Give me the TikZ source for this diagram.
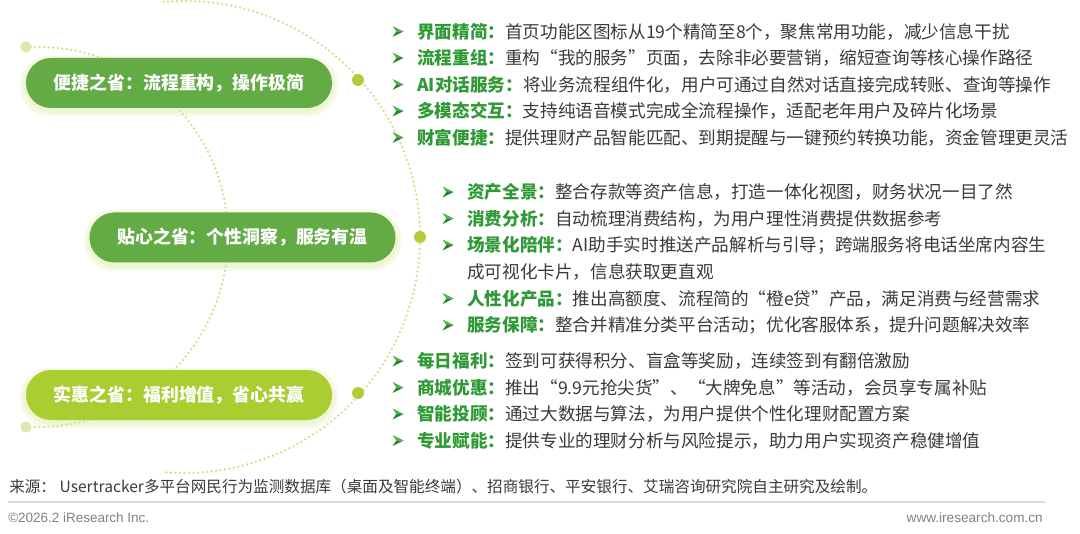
\documentclass[tikz,border=0pt]{standalone}
\usepackage{fontspec}
\setmainfont{Noto Sans CJK SC}
\newfontfamily\arialfont{Liberation Sans}
\definecolor{pillgreen}{HTML}{62AB45}
\definecolor{pillyellow}{HTML}{AACD32}
\definecolor{lblgreen}{HTML}{2F9A35}
\definecolor{bullight}{HTML}{4DB346}
\definecolor{buldark}{HTML}{23862B}
\definecolor{bodytext}{HTML}{3A3A3A}
\definecolor{arcc}{HTML}{CFE08C}
\definecolor{dotc}{HTML}{B4CC3C}
\definecolor{dotlight}{HTML}{DDE8AE}
\definecolor{glowc}{HTML}{EEF5DC}
\definecolor{rulec}{HTML}{D9D9D9}
\definecolor{footc}{HTML}{808080}
\definecolor{halo}{HTML}{DCEBA5}
\pgfdeclareradialshading{glowshade}{\pgfpoint{0bp}{0bp}}{color(0bp)=(white); color(26bp)=(white); color(50bp)=(glowc); color(100bp)=(glowc)}
\tikzset{
  dotline/.style={arcc, line width=1.9pt, dash pattern=on 0pt off 3.4pt, line cap=round},
  bigdot/.style={circle, fill=dotc, inner sep=0, minimum size=9pt},
  enddot/.style={circle, fill=dotlight, inner sep=0, minimum size=8.5pt},
  pill/.style={rounded corners=18.75pt, minimum width=229.5pt, minimum height=37.5pt, inner sep=0,
    text=white, font=\fontsize{13.4pt}{15pt}\selectfont\bfseries},
  halofill/.style={fill=halo, opacity=0.28, rounded corners=22pt},
  body/.style={anchor=west, inner sep=0, text=bodytext, font=\fontsize{13.2pt}{15pt}\selectfont},
  bul/.style={inner sep=0, minimum width=10pt, minimum height=10pt, path picture={
    \fill[bullight] (path picture bounding box.center) ++(5.5,0) -- ++(-11,-5.5) -- ++(3.8,5.5) -- cycle;
    \fill[buldark] (path picture bounding box.center) ++(5.5,0) -- ++(-11,5.5) -- ++(3.8,-5.5) -- cycle;
  }},
}
\newcommand{\lbl}[1]{\textcolor{lblgreen}{\bfseries #1}}
\begin{document}
\begin{tikzpicture}[x=0.75pt,y=-0.75pt]
\useasboundingbox (0,0) rectangle (1080,534);
% glow inside big circle
\shade[shading=glowshade] (184,237) circle[radius=236];
% dotted arcs
\draw[dotline] (184,237) ++(-95:236) arc[start angle=-95, end angle=95, radius=236];
\draw[dotline] (38,237) ++(-93.6:190) arc[start angle=-93.6, end angle=93.6, radius=190];
\node[enddot] (e1) at (26,47) {};
\node[enddot] (e2) at (26,427) {};
\node[bigdot] (d1) at (358,80) {};
\node[bigdot] (d2) at (420,237) {};
\node[bigdot] (d3) at (358,393) {};
% halos
\fill[halofill] (20,56) rectangle (338,116);
\fill[halofill] (23,58) rectangle (335,113);
\fill[halofill] (84,210) rectangle (401,271);
\fill[halofill] (87,212) rectangle (398,268);
\fill[halofill] (20,368) rectangle (338,428);
\fill[halofill] (23,370) rectangle (335,425);
% pills
\node[pill, fill=pillgreen] (p1) at (179,83) {便捷之省：流程重构，操作极简};
\node[pill, fill=pillgreen] (p2) at (242.5,237.5) {贴心之省：个性洞察，服务有温};
\node[pill, fill=pillyellow] (p3) at (179,395) {实惠之省：福利增值，省心共赢};
% group 1
\node[bul] (b11) at (398,31.5) {};
\node[body] (t11) at (417,31.5) {\lbl{界面精简：}首页功能区图标从19个精简至8个，聚焦常用功能，减少信息干扰};
\node[bul] (b12) at (398,58) {};
\node[body] (t12) at (417,58) {\lbl{流程重组：}重构“我的服务”页面，去除非必要营销，缩短查询等核心操作路径};
\node[bul] (b13) at (398,84.5) {};
\node[body] (t13) at (417,84.5) {\lbl{AI对话服务：}将业务流程组件化，用户可通过自然对话直接完成转账、查询等操作};
\node[bul] (b14) at (398,111) {};
\node[body] (t14) at (417,111) {\lbl{多模态交互：}支持纯语音模式完成全流程操作，适配老年用户及碎片化场景};
\node[bul] (b15) at (398,137.5) {};
\node[body] (t15) at (417,137.5) {\lbl{财富便捷：}提供理财产品智能匹配、到期提醒与一键预约转换功能，资金管理更灵活};
% group 2
\node[bul] (b21) at (448,192) {};
\node[body] (t21) at (467,192) {\lbl{资产全景：}整合存款等资产信息，打造一体化视图，财务状况一目了然};
\node[bul] (b22) at (448,218.5) {};
\node[body] (t22) at (467,218.5) {\lbl{消费分析：}自动梳理消费结构，为用户理性消费提供数据参考};
\node[bul] (b23) at (448,245) {};
\node[body] (t23) at (467,245) {\lbl{场景化陪伴：}AI助手实时推送产品解析与引导；跨端服务将电话坐席内容生};
\node[body] (t23b) at (467,271.5) {成可视化卡片，信息获取更直观};
\node[bul] (b24) at (448,298.5) {};
\node[body] (t24) at (467,298.5) {\lbl{人性化产品：}推出高额度、流程简的“橙e贷”产品，满足消费与经营需求};
\node[bul] (b25) at (448,325) {};
\node[body] (t25) at (467,325) {\lbl{服务保障：}整合并精准分类平台活动；优化客服体系，提升问题解决效率};
% group 3
\node[bul] (b31) at (398,361) {};
\node[body] (t31) at (417,361) {\lbl{每日福利：}签到可获得积分、盲盒等奖励，连续签到有翻倍激励};
\node[bul] (b32) at (398,387.5) {};
\node[body] (t32) at (417,387.5) {\lbl{商城优惠：}推出“9.9元抢尖货”、“大牌免息”等活动，会员享专属补贴};
\node[bul] (b33) at (398,414) {};
\node[body] (t33) at (417,414) {\lbl{智能投顾：}通过大数据与算法，为用户提供个性化理财配置方案};
\node[bul] (b34) at (398,440.5) {};
\node[body] (t34) at (417,440.5) {\lbl{专业赋能：}提供专业的理财分析与风险提示，助力用户实现资产稳健增值};
% source and footer
\node[anchor=west, inner sep=0, text=bodytext, font=\fontsize{11.7pt}{13pt}\selectfont] (src) at (9,487)
  {来源： Usertracker多平台网民行为监测数据库（桌面及智能终端）、招商银行、平安银行、艾瑞咨询研究院自主研究及绘制。};
\coordinate (r1) at (8,502);
\coordinate (r2) at (1045,502);
\draw[rulec, line width=1.4pt] (r1) -- (r2);
\node[anchor=west, inner sep=0, text=footc, font=\arialfont\fontsize{10.1pt}{11pt}\selectfont] (cp) at (8,518) {©2026.2 iResearch Inc.};
\node[anchor=east, inner sep=0, text=footc, font=\arialfont\fontsize{10.2pt}{11pt}\selectfont] (web) at (1043,518) {www.iresearch.com.cn};
\end{tikzpicture}
\end{document}
